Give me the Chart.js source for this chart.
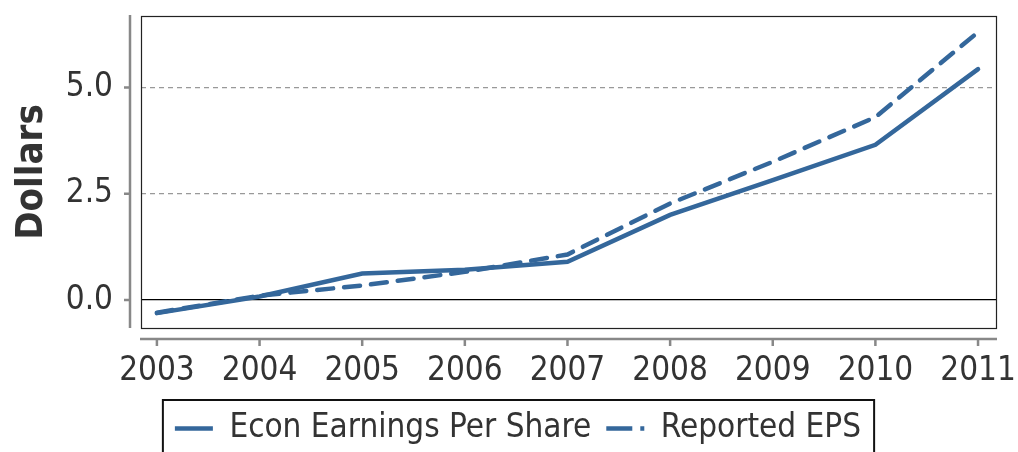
<!DOCTYPE html>
<html>
<head>
<meta charset="utf-8">
<script src="https://cdn.jsdelivr.net/npm/chart.js@4/dist/chart.umd.min.js"></script>
<style>
  html, body { margin: 0; padding: 0; background: #fff; }
  #wrap { width: 1018px; height: 452px; }
</style>
</head>
<body>
<div id="wrap"><canvas id="epsChart" width="1018" height="452"></canvas></div>
<script>
// data
const years = [2003, 2004, 2005, 2006, 2007, 2008, 2009, 2010, 2011];
const econEps = [-0.31, 0.08, 0.62, 0.71, 0.90, 2.00, 2.82, 3.65, 5.43];
const reportedEps = [-0.30, 0.10, 0.34, 0.66, 1.07, 2.27, 3.25, 4.30, 6.30];
const yTicks = [0, 2.5, 5.0];

const lineColor = 'rgb(52, 103, 155)';
const textColor = '#333';
const fontFamily = "'DejaVu Sans Condensed', 'DejaVu Sans', sans-serif";

// black frame, offset grey spines with tick marks, legend box
const framePlugin = {
    id: 'frame',
    afterDraw(chart) {
        const ctx = chart.ctx;
        const a = chart.chartArea;
        const xs = chart.scales.x;
        const ys = chart.scales.y;
        ctx.save();
        ctx.strokeStyle = '#222';
        ctx.lineWidth = 1.2;
        ctx.strokeRect(a.left + 0.5, a.top + 0.5, a.right - a.left, a.bottom - a.top);

        ctx.strokeStyle = '#888';
        ctx.lineWidth = 2.5;
        // y spine
        const sx = a.left - 11;
        ctx.beginPath();
        ctx.moveTo(sx, a.top - 1);
        ctx.lineTo(sx, a.bottom);
        yTicks.forEach(v => {
            const py = ys.getPixelForValue(v);
            ctx.moveTo(sx, py);
            ctx.lineTo(sx - 6, py);
        });
        ctx.stroke();
        // x spine
        const sy = a.bottom + 11;
        ctx.beginPath();
        ctx.moveTo(a.left - 1, sy);
        ctx.lineTo(a.right + 1, sy);
        years.forEach(v => {
            const px = xs.getPixelForValue(v);
            ctx.moveTo(px, sy);
            ctx.lineTo(px, sy + 7);
        });
        ctx.stroke();

        // legend frame
        const boxes = chart.legend.legendHitBoxes;
        if (boxes && boxes.length) {
            const l = Math.min(...boxes.map(b => b.left)) - 12;
            const r = Math.max(...boxes.map(b => b.left + b.width)) + 13;
            const t = Math.min(...boxes.map(b => b.top)) - 12;
            ctx.strokeStyle = '#111';
            ctx.lineWidth = 2;
            ctx.strokeRect(l, t, r - l, 100);
        }
        ctx.restore();
    }
};

new Chart(document.getElementById('epsChart').getContext('2d'), {
    type: 'line',
    data: {
        datasets: [{
            label: 'Econ Earnings Per Share',
            data: years.map((y, i) => ({ x: y, y: econEps[i] })),
            borderColor: lineColor,
            borderWidth: 4.5,
            borderCapStyle: 'round',
            pointRadius: 0,
            fill: false
        }, {
            label: 'Reported EPS',
            data: years.map((y, i) => ({ x: y, y: reportedEps[i] })),
            borderColor: lineColor,
            borderWidth: 4.5,
            borderDash: [16, 11],
            borderCapStyle: 'round',
            pointRadius: 0,
            fill: false
        }]
    },
    options: {
        responsive: false,
        animation: false,
        layout: { padding: { top: 16, right: 0, left: 18, bottom: -3 } },
        plugins: {
            legend: {
                position: 'bottom',
                labels: {
                    usePointStyle: true,
                    pointStyle: 'line',
                    pointStyleWidth: 38,
                    padding: 15,
                    color: textColor,
                    font: { family: fontFamily, size: 33 },
                    generateLabels(chart) {
                        const items = Chart.defaults.plugins.legend.labels.generateLabels(chart);
                        items.forEach(it => {
                            it.pointStyle = 'line';
                            if (it.datasetIndex === 1) it.lineDash = [26, 8];
                        });
                        return items;
                    }
                }
            },
            tooltip: { enabled: false }
        },
        scales: {
            x: {
                type: 'linear',
                min: 2002.845,
                max: 2011.175,
                afterBuildTicks(scale) {
                    scale.ticks = years.map(v => ({ value: v }));
                },
                afterFit(scale) {
                    scale.height = 69;
                    scale.paddingLeft = 0;
                    scale.paddingRight = 22;
                },
                grid: { display: false },
                border: { display: false },
                ticks: {
                    padding: 16,
                    color: textColor,
                    maxRotation: 0,
                    font: { family: fontFamily, size: 33 },
                    callback: v => String(v)
                }
            },
            y: {
                min: -0.66,
                max: 6.68,
                afterBuildTicks(scale) {
                    scale.ticks = yTicks.map(v => ({ value: v }));
                },
                afterFit(scale) {
                    scale.width = 123;
                    scale.paddingTop = 0;
                    scale.paddingBottom = 0;
                },
                grid: {
                    drawTicks: false,
                    lineWidth: 1.2,
                    color: c => (c.tick && c.tick.value === 0) ? '#000' : '#999'
                },
                border: {
                    display: false,
                    dash: c => (c.tick && c.tick.value === 0) ? [] : [5, 4]
                },
                ticks: {
                    padding: 28,
                    color: textColor,
                    font: { family: fontFamily, size: 33 },
                    callback: v => v.toFixed(1)
                },
                title: {
                    display: true,
                    text: 'Dollars',
                    color: textColor,
                    padding: { top: -9, bottom: 0 },
                    font: { family: fontFamily, size: 38, weight: 'bold' }
                }
            }
        }
    },
    plugins: [framePlugin]
});
</script>
</body>
</html>
